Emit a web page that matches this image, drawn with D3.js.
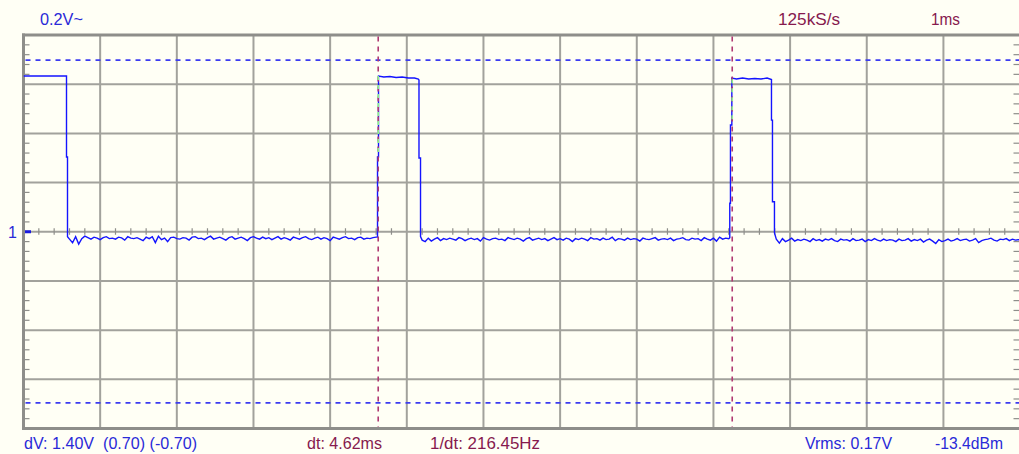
<!DOCTYPE html>
<html>
<head>
<meta charset="utf-8">
<script src="https://cdn.jsdelivr.net/npm/d3@7"></script>
<style>
  html, body { margin: 0; padding: 0; background: #fffff5; }
  svg { display: block; }
  text { font-family: "Liberation Sans", Arial, sans-serif; white-space: pre; }
</style>
</head>
<body>
<svg id="chart" width="1019" height="454"></svg>
<script>
// ---------------- data ----------------
const timeDomainMs = [0, 13];          // 1 ms / div, 13 divisions visible
const voltDomain = [-0.8, 0.8];        // 0.2 V / div, 8 divisions
const timeGridMs = [1, 2, 3, 4, 5, 6, 7, 8, 9, 10, 11, 12];
const voltGrid = [-0.6, -0.4, -0.2, 0, 0.2, 0.4, 0.6];

// horizontal (voltage) cursors and vertical (time) cursors
const voltCursors = [0.698, -0.696];
const timeCursorsMs = [4.627, 9.245];

// trace: edges and plateaus (time ms, volts)
const pulse1T = [0, 0.561, 0.561, 0.574, 0.574];
const pulse1V = [0.633, 0.633, 0.304, 0.304, -0.020];
const rise2T = [4.618, 4.618, 4.631, 4.631];
const rise2V = [-0.022, 0.304, 0.304, 0.633];
const top2T = [4.70, 4.78, 4.86, 4.94, 5.02, 5.10, 5.15, 5.159];
const top2V = [0.629, 0.631, 0.627, 0.629, 0.625, 0.625, 0.621, 0.617];
const fall2T = [5.159, 5.179, 5.179];
const fall2V = [0.300, 0.300, -0.020];
const rise3T = [9.213, 9.213, 9.222, 9.222, 9.240, 9.240];
const rise3V = [-0.024, 0.116, 0.116, 0.434, 0.434, 0.625];
const top3T = [9.30, 9.38, 9.46, 9.54, 9.62, 9.70, 9.757];
const top3V = [0.621, 0.625, 0.621, 0.623, 0.621, 0.625, 0.619];
const fall3T = [9.757, 9.770, 9.770, 9.796, 9.796];
const fall3V = [0.454, 0.454, 0.122, 0.122, -0.005];

// low-level noisy segments, sampled every 0.04 ms (values in mV)
const lowStepMs = 0.04;
const low1StartMs = 0.60;
const low1mV = [
-30,-45,-20,-50,-28,-18,-24,-30,-22,-26,
-32,-24,-20,-28,-26,-30,-22,-25,-34,-20,
-26,-28,-24,-30,-36,-22,-28,-20,-44,-18,
-32,-26,-40,-24,-22,-28,-30,-24,-26,-34,
-22,-20,-28,-26,-32,-24,-18,-30,-26,-22,
-28,-34,-24,-20,-30,-26,-22,-28,-36,-24,
-20,-26,-30,-22,-28,-24,-32,-26,-20,-30,
-24,-28,-34,-22,-26,-30,-24,-20,-28,-32,
-26,-22,-30,-24,-28,-36,-22,-26,-30,-24,
-20,-28,-26,-32,-24,-22,-30,-26,-28,-24,
-22];
const low2StartMs = 5.20;
const low2mV = [
-34,-40,-26,-38,-30,-24,-36,-28,-32,-26,
-30,-34,-24,-28,-36,-30,-26,-32,-28,-38,
-24,-30,-34,-28,-26,-32,-30,-36,-24,-28,
-32,-26,-30,-38,-28,-24,-34,-30,-26,-32,
-28,-36,-30,-24,-32,-28,-34,-26,-30,-40,
-28,-32,-26,-30,-36,-24,-30,-28,-34,-26,
-32,-30,-22,-36,-28,-30,-34,-26,-32,-28,
-30,-38,-26,-30,-32,-28,-24,-34,-30,-28,
-32,-26,-36,-30,-28,-24,-32,-34,-26,-30,
-28,-36,-24,-30,-34,-26,-38,-22,-30,-26,
-28];
const low3StartMs = 9.82;
const low3mV = [
-30,-46,-28,-40,-34,-26,-38,-32,-36,-30,
-34,-40,-28,-36,-32,-38,-30,-34,-28,-36,
-40,-30,-34,-32,-38,-28,-36,-34,-30,-40,
-32,-36,-28,-34,-38,-30,-36,-32,-34,-40,
-30,-36,-34,-28,-38,-32,-36,-30,-42,-34,
-30,-38,-48,-32,-40,-36,-30,-38,-34,-28,
-36,-32,-30,-38,-34,-28,-44,-36,-32,-30,
-26,-34,-38,-30,-32,-28,-36,-30,-34,-32,
-36];

// readouts
const topLabels = ["0.2V~", "125kS/s", "1ms"];
const bottomLabels = ["dV: 1.40V  (0.70) (-0.70)", "dt: 4.62ms", "1/dt: 216.45Hz", "Vrms: 0.17V", "-13.4dBm"];
const channelLabel = "1";

// ---------------- drawing ----------------
(function draw() {
const svg = d3.select("#chart");
const W = 1019, H = 454;
const pL = 23.5, pR = 23.5 + 13 * 76.66, pT = 35, pB = 428.5;

const x = d3.scaleLinear().domain(timeDomainMs).range([pL, pR]);
const y = d3.scaleLinear().domain(voltDomain).range([pB, pT]);

const BLUE_TXT = "#2a2ad8", MAROON = "#861a4e";
const GRID = "#a2a29c", FRAME = "#8e8e8a";

svg.append("rect").attr("width", W).attr("height", H).attr("fill", "#fffff5");

const defs = svg.append("defs");
defs.append("clipPath").attr("id", "plotClip").append("rect")
  .attr("x", pL).attr("y", pT).attr("width", W - pL).attr("height", pB - pT);

const g = svg.append("g");

// grid
g.selectAll("line.vg").data(timeGridMs).join("line")
  .attr("x1", d => x(d)).attr("x2", d => x(d))
  .attr("y1", pT).attr("y2", pB)
  .attr("stroke", GRID).attr("stroke-width", 2);
g.selectAll("line.hg").data(voltGrid).join("line")
  .attr("x1", pL).attr("x2", W)
  .attr("y1", d => y(d)).attr("y2", d => y(d))
  .attr("stroke", GRID).attr("stroke-width", 2);

// minor ticks along left and right edges (every 0.04 V)
const vMinor = d3.range(-0.76, 0.78, 0.04).filter(v => Math.abs(Math.round(v * 5) - v * 5) > 0.01);
g.selectAll("line.lt").data(vMinor).join("line")
  .attr("x1", pL).attr("x2", pL + 6)
  .attr("y1", d => y(d)).attr("y2", d => y(d))
  .attr("stroke", FRAME).attr("stroke-width", 1.2);
g.selectAll("line.rt").data(vMinor).join("line")
  .attr("x1", W - 5.5).attr("x2", W)
  .attr("y1", d => y(d)).attr("y2", d => y(d))
  .attr("stroke", FRAME).attr("stroke-width", 1.2);

// minor ticks on the centre horizontal axis (every 0.2 ms)
const tMinor = d3.range(0.2, 13.1, 0.2).filter(t => Math.abs(Math.round(t) - t) > 0.01);
g.selectAll("line.ct").data(tMinor).join("line")
  .attr("x1", d => x(d)).attr("x2", d => x(d))
  .attr("y1", y(0) - 3.5).attr("y2", y(0) + 3)
  .attr("stroke", FRAME).attr("stroke-width", 1.2);

// frame (left, top, bottom)
g.append("line").attr("x1", pL).attr("x2", pL).attr("y1", pT - 1.5).attr("y2", pB + 1.5)
  .attr("stroke", FRAME).attr("stroke-width", 3);
g.append("line").attr("x1", pL - 1.5).attr("x2", W).attr("y1", pT).attr("y2", pT)
  .attr("stroke", FRAME).attr("stroke-width", 3);
g.append("line").attr("x1", pL - 1.5).attr("x2", W).attr("y1", pB).attr("y2", pB)
  .attr("stroke", FRAME).attr("stroke-width", 3);

// voltage cursors
g.selectAll("line.vc").data(voltCursors).join("line")
  .attr("x1", pL + 2).attr("x2", W)
  .attr("y1", d => y(d)).attr("y2", d => y(d))
  .attr("stroke", "#3c3cf0").attr("stroke-width", 1.6)
  .attr("stroke-dasharray", "5,5");

// build trace
function seg(T, V) { return T.map((t, i) => [t, V[i]]); }
function lowSeg(start, arr) { return arr.map((mv, i) => [start + i * lowStepMs, mv / 1000]); }
const trace = [].concat(
  seg(pulse1T, pulse1V),
  lowSeg(low1StartMs, low1mV),
  seg(rise2T, rise2V),
  seg(top2T, top2V),
  seg(fall2T, fall2V),
  lowSeg(low2StartMs, low2mV),
  seg(rise3T, rise3V),
  seg(top3T, top3V),
  seg(fall3T, fall3V),
  lowSeg(low3StartMs, low3mV)
);

const line = d3.line().x(d => x(d[0])).y(d => y(d[1]));
svg.append("path").datum(trace)
  .attr("clip-path", "url(#plotClip)")
  .attr("d", line)
  .attr("fill", "none").attr("stroke", "#1414ff").attr("stroke-width", 1.4)
  .attr("stroke-linejoin", "miter");

// time cursors
svg.selectAll("line.tc").data(timeCursorsMs).join("line")
  .attr("x1", d => x(d)).attr("x2", d => x(d))
  .attr("y1", pT + 1.5).attr("y2", pB - 1.5)
  .attr("stroke", "#b03a72").attr("stroke-width", 1.6)
  .attr("stroke-dasharray", "5,5");

// overlap of cursor and trace edges (light green dashes)
const overlaps = [[timeCursorsMs[0], 0.304, 0.633], [timeCursorsMs[1], 0.44, 0.62]];
svg.selectAll("line.ov").data(overlaps).join("line")
  .attr("x1", d => x(d[0])).attr("x2", d => x(d[0]))
  .attr("y1", d => y(d[2])).attr("y2", d => y(d[1]))
  .attr("stroke", "#8cf08c").attr("stroke-width", 1.6)
  .attr("stroke-dasharray", "4,5");

// channel marker
svg.append("rect").attr("x", pL + 1.5).attr("y", y(0) - 1.5).attr("width", 6).attr("height", 3)
  .attr("fill", "#1a1ae0");
svg.append("text").attr("x", 8).attr("y", y(0) + 6).attr("font-size", 16)
  .attr("fill", BLUE_TXT).text(channelLabel);

// readouts
const topPos = [[40, 43, BLUE_TXT], [778, 62, MAROON], [931, 29, MAROON]];
svg.selectAll("text.top").data(topLabels).join("text")
  .attr("x", (d, i) => topPos[i][0]).attr("y", 25)
  .attr("font-size", 16.5)
  .attr("textLength", (d, i) => topPos[i][1]).attr("lengthAdjust", "spacingAndGlyphs")
  .attr("fill", (d, i) => topPos[i][2]).text(d => d);

const botPos = [[24, 173, BLUE_TXT], [307, 75, MAROON], [430, 110, MAROON], [805, 87, BLUE_TXT], [935, 68, BLUE_TXT]];
svg.selectAll("text.bot").data(bottomLabels).join("text")
  .attr("x", (d, i) => botPos[i][0]).attr("y", 449)
  .attr("font-size", 16.5)
  .attr("textLength", (d, i) => botPos[i][1]).attr("lengthAdjust", "spacingAndGlyphs")
  .attr("fill", (d, i) => botPos[i][2]).text(d => d);
})();
</script>
</body>
</html>
